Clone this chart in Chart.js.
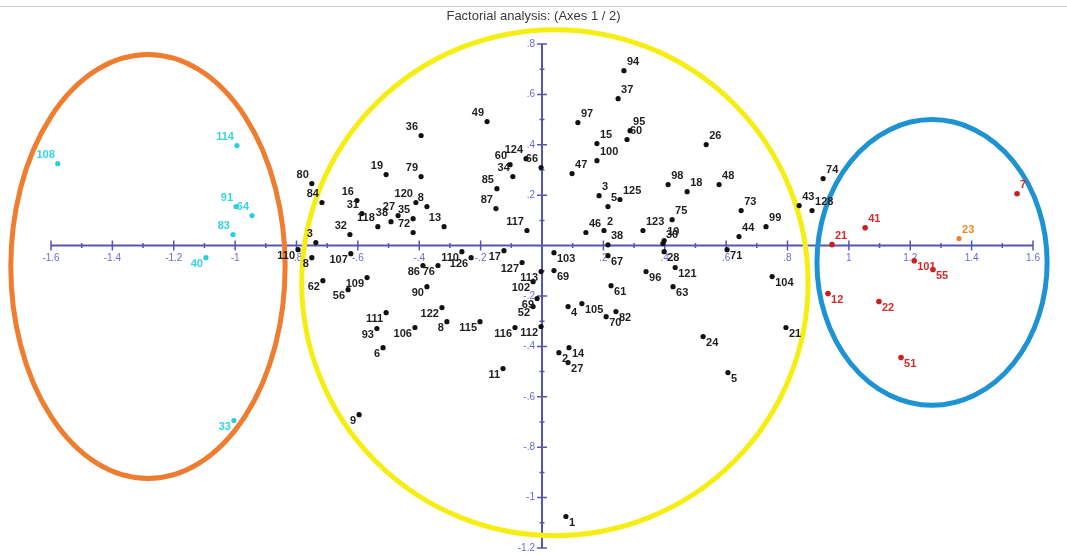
<!DOCTYPE html>
<html>
<head>
<meta charset="utf-8">
<title>Factorial analysis: (Axes 1 / 2)</title>
<script src="https://cdn.jsdelivr.net/npm/chart.js@4.4.1/dist/chart.umd.min.js"></script>
<style>
  html, body { margin: 0; padding: 0; background: #fff; }
  #wrap { width: 1067px; height: 555px; position: relative; }
</style>
</head>
<body>
<div id="wrap"><canvas id="myChart" width="1067" height="555"></canvas></div>
<script>
// main group (black points, inside the yellow ring)
const blackLabels = ['80','84','3','110','8','16','31','19','79','36','49','118','38','27','35','72','120','8','13','32',
  '85','87','117','124','60','34','66','94','37','97','95','60','15','100','47','26','98','18','48','3',
  '125','5','73','75','123','46','2','99','44','30','19','38','28','71','43','128','74',
  '107','62','109','56','86','76','110','126','17','127','113','102','69','52','90','122','111','93','106',
  '8','115','116','112','6','11','9','103','69','67','96','121','61','63','104','4','105','70','82','24',
  '21','2','14','27','5','1'];
const blackX = [-0.750,-0.717,-0.737,-0.795,-0.750,-0.603,-0.587,-0.508,-0.394,-0.394,-0.179,-0.535,-0.492,-0.469,-0.420,-0.420,-0.411,-0.375,-0.319,-0.626,
  -0.147,-0.150,-0.049,-0.052,-0.104,-0.095,-0.003,0.267,0.248,0.117,0.287,0.277,0.179,0.179,0.098,0.535,0.411,0.473,0.577,0.186,
  0.254,0.215,0.649,0.424,0.329,0.143,0.202,0.730,0.642,0.394,0.398,0.215,0.398,0.603,0.838,0.880,0.916,
  -0.623,-0.714,-0.570,-0.632,-0.388,-0.339,-0.261,-0.231,-0.124,-0.065,-0.003,-0.029,-0.016,-0.029,-0.375,-0.326,-0.508,-0.538,-0.414,
  -0.310,-0.202,-0.088,-0.003,-0.518,-0.127,-0.596,0.039,0.039,0.215,0.339,0.434,0.225,0.427,0.750,0.085,0.130,0.209,0.241,0.525,
  0.795,0.055,0.088,0.085,0.606,0.078];
const blackY = [0.246,0.171,0.012,-0.016,-0.048,0.179,0.127,0.282,0.274,0.437,0.492,0.075,0.095,0.119,0.107,0.052,0.171,0.155,0.075,0.044,
  0.226,0.147,0.060,0.345,0.321,0.274,0.310,0.694,0.583,0.488,0.456,0.421,0.405,0.337,0.286,0.401,0.242,0.214,0.242,0.198,
  0.183,0.155,0.139,0.103,0.060,0.052,0.060,0.075,0.036,0.008,0.020,0.003,-0.024,-0.016,0.159,0.139,0.266,
  -0.032,-0.139,-0.127,-0.175,-0.079,-0.079,-0.024,-0.048,-0.020,-0.067,-0.103,-0.143,-0.210,-0.242,-0.163,-0.246,-0.266,-0.329,-0.325,
  -0.302,-0.302,-0.325,-0.321,-0.405,-0.488,-0.671,-0.028,-0.099,-0.040,-0.103,-0.087,-0.159,-0.163,-0.123,-0.242,-0.230,-0.282,-0.262,-0.361,
  -0.325,-0.425,-0.405,-0.464,-0.504,-1.075];

// left group (cyan, orange ring)
const cyanLabels = ['108','114','91','64','83','40','33'];
const cyanX = [-1.578,-0.994,-0.997,-0.945,-1.007,-1.095,-1.004];
const cyanY = [0.325,0.397,0.155,0.119,0.044,-0.048,-0.694];

// right group (red, blue ring)
const redLabels = ['7','41','21','101','55','12','22','51'];
const redX = [1.548,1.053,0.945,1.213,1.274,0.932,1.098,1.170];
const redY = [0.206,0.071,0.004,-0.060,-0.095,-0.190,-0.222,-0.444];

// the single orange point
const orangeLabels = ['23'];
const orangeX = [1.359];
const orangeY = [0.028];

// axis ticks
const xTickValues = [-1.6,-1.4,-1.2,-1,-0.8,-0.6,-0.4,-0.2,0.2,0.4,0.6,0.8,1,1.2,1.4,1.6];
const xTickLabels = ['-1.6','-1.4','-1.2','-1','-.8','-.6','-.4','-.2','.2','.4','.6','.8','1','1.2','1.4','1.6'];
const yTickValues = [0.8,0.6,0.4,0.2,-0.2,-0.4,-0.6,-0.8,-1,-1.2];
const yTickLabels = ['.8','.6','.4','.2','-.2','-.4','-.6','-.8','-1','-1.2'];

// rings around the groups, in axis units
const ringCx = [-1.284, 0.042, 1.271];
const ringCy = [-0.083, -0.147, -0.067];
const ringRx = [0.447, 0.825, 0.375];
const ringRy = [0.841, 1.004, 0.567];
const ringColors = ['#ef7d2f', '#f6ee12', '#1e93d3'];

const AXIS_COLOR = '#5656b0';
const TICK_TEXT = '#6b6bd6';

function toPoints(xs, ys) {
  return xs.map((x, i) => ({ x: x, y: ys[i] }));
}

// axes through the origin, drawn with the chart's own scales
const axesPlugin = {
  id: 'axes',
  beforeDatasetsDraw(chart) {
    const ctx = chart.ctx;
    const xs = chart.scales.x, ys = chart.scales.y;
    const x0 = xs.getPixelForValue(0), y0 = ys.getPixelForValue(0);
    ctx.save();

    // top rule and title
    ctx.strokeStyle = '#cfcfcf';
    ctx.lineWidth = 1;
    ctx.beginPath();
    ctx.moveTo(0, 6.5); ctx.lineTo(chart.width, 6.5);
    ctx.stroke();
    ctx.fillStyle = '#3a3a3a';
    ctx.font = '13px "Liberation Sans", Arial, sans-serif';
    ctx.textAlign = 'center';
    ctx.textBaseline = 'middle';
    ctx.fillText('Factorial analysis: (Axes 1 / 2)', chart.width / 2, 16);

    ctx.strokeStyle = AXIS_COLOR;
    ctx.lineWidth = 2;
    ctx.beginPath();
    ctx.moveTo(xs.getPixelForValue(-1.6), y0);
    ctx.lineTo(xs.getPixelForValue(1.6), y0);
    ctx.moveTo(x0, ys.getPixelForValue(0.8));
    ctx.lineTo(x0, ys.getPixelForValue(-1.2));
    ctx.stroke();

    // major and minor ticks
    ctx.lineWidth = 1.5;
    ctx.beginPath();
    for (let v = -16; v <= 16; v++) {
      if (v === 0) continue;
      const px = xs.getPixelForValue(v / 10);
      const h = v % 2 === 0 ? 5 : 2.5;
      ctx.moveTo(px, y0 - h); ctx.lineTo(px, y0 + h);
    }
    for (let v = -12; v <= 8; v++) {
      if (v === 0) continue;
      const py = ys.getPixelForValue(v / 10);
      const w = v % 2 === 0 ? 5 : 2.5;
      ctx.moveTo(x0 - w, py); ctx.lineTo(x0 + w, py);
    }
    ctx.stroke();

    ctx.fillStyle = TICK_TEXT;
    ctx.font = '10px "Liberation Sans", Arial, sans-serif';
    ctx.textAlign = 'center';
    ctx.textBaseline = 'middle';
    xTickValues.forEach((v, i) => {
      ctx.fillText(xTickLabels[i], xs.getPixelForValue(v), y0 + 13);
    });
    ctx.textAlign = 'right';
    yTickValues.forEach((v, i) => {
      ctx.fillText(yTickLabels[i], x0 - 7, ys.getPixelForValue(v));
    });

    // rings
    ctx.lineWidth = 5;
    ringCx.forEach((cx, i) => {
      const px = xs.getPixelForValue(cx), py = ys.getPixelForValue(ringCy[i]);
      const rx = Math.abs(xs.getPixelForValue(cx + ringRx[i]) - px);
      const ry = Math.abs(ys.getPixelForValue(ringCy[i] + ringRy[i]) - py);
      ctx.strokeStyle = ringColors[i];
      ctx.beginPath();
      ctx.ellipse(px, py, rx, ry, 0, 0, Math.PI * 2);
      ctx.stroke();
    });
    ctx.restore();
  }
};

// point numbers, placed away from the origin
const labelPlugin = {
  id: 'pointLabels',
  afterDatasetsDraw(chart) {
    const ctx = chart.ctx;
    ctx.save();
    ctx.font = 'bold 11px "Liberation Sans", Arial, sans-serif';
    ctx.textBaseline = 'middle';
    chart.data.datasets.forEach((ds, di) => {
      const meta = chart.getDatasetMeta(di);
      ctx.fillStyle = ds.labelColor;
      meta.data.forEach((el, i) => {
        const d = ds.data[i];
        const right = d.x >= 0;
        const up = d.y >= 0;
        ctx.textAlign = right ? 'left' : 'right';
        ctx.fillText(ds.labels[i], el.x + (right ? 3 : -3), el.y + (up ? -9 : 6));
      });
    });
    ctx.restore();
  }
};

const ctx = document.getElementById('myChart').getContext('2d');
const myChart = new Chart(ctx, {
  type: 'scatter',
  data: {
    datasets: [
      { data: toPoints(blackX, blackY), labels: blackLabels, labelColor: '#1e1e1e',
        pointBackgroundColor: '#111', pointRadius: 2.6 },
      { data: toPoints(cyanX, cyanY), labels: cyanLabels, labelColor: '#35d3e3',
        pointBackgroundColor: '#27cfe0', pointRadius: 2.6 },
      { data: toPoints(redX, redY), labels: redLabels, labelColor: '#d22a2a',
        pointBackgroundColor: '#cc1f1f', pointRadius: 2.8 },
      { data: toPoints(orangeX, orangeY), labels: orangeLabels, labelColor: '#f08a2a',
        pointBackgroundColor: '#ea8430', pointRadius: 2.6 },
    ],
  },
  options: {
    responsive: false,
    animation: false,
    devicePixelRatio: 1,
    layout: { padding: { left: 51, right: 34, top: 44, bottom: 7 } },
    elements: { point: { borderWidth: 0, hoverRadius: 3 } },
    scales: {
      x: { type: 'linear', min: -1.6, max: 1.6, display: false },
      y: { type: 'linear', min: -1.2, max: 0.8, display: false },
    },
    plugins: {
      legend: { display: false },
      tooltip: { enabled: false },
      title: { display: false },
    },
  },
  plugins: [axesPlugin, labelPlugin],
});
</script>
</body>
</html>
